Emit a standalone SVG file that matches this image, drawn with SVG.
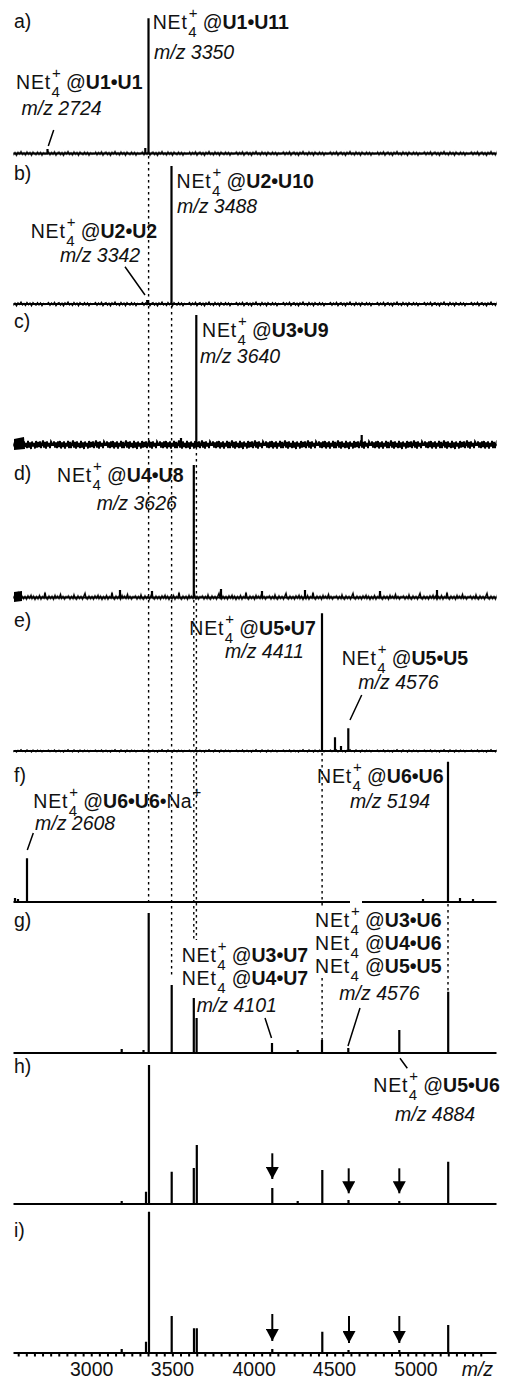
<svg xmlns="http://www.w3.org/2000/svg" width="505" height="1377" viewBox="0 0 505 1377">
<defs>
<style>
text{font-family:"Liberation Sans",Arial,sans-serif;font-size:19.5px;fill:#111}
.n{letter-spacing:0.8px}
.s{font-size:15px}
.b{font-weight:bold}
.i{font-style:italic}
.bl{stroke:#000;stroke-width:2;fill:none}
.pk{stroke:#000;stroke-width:2.2;fill:none}
.dot{stroke:#000;stroke-width:1.4;stroke-dasharray:2.5 3.5;fill:none}
.ptr{stroke:#000;stroke-width:1.5;fill:none}
.arr{stroke:#000;stroke-width:2;fill:none;marker-end:url(#ah)}
.nz{fill:none;stroke:#000}
</style>
<marker id="ah" markerUnits="userSpaceOnUse" markerWidth="13" markerHeight="13" refX="12" refY="6.5" orient="auto" viewBox="0 0 13 13"><path d="M0,0 L12,6.5 L0,13 Z" fill="#000"/></marker>
<pattern id="nzA" patternUnits="userSpaceOnUse" width="47" height="6"><polyline class="nz" stroke-width="1.3" points="0,3 1.5,2.1 3,3.7 4.5,2.5 6,3.4 7.5,2 9,3.9 10.5,2.8 12,2.2 13.5,3.6 15,2.6 16.5,4 18,2.3 19.5,3.2 21,1.8 22.5,3.5 24,2.7 25.5,3.8 27,2 28.5,3.3 30,2.5 31.5,4 33,2.1 34.5,3.1 36,3.7 37.5,2.2 39,3.5 40.5,2.4 42,3.9 43.5,2.6 45,3.3 47,3"/></pattern>
<pattern id="nzB" patternUnits="userSpaceOnUse" width="47" height="8"><polyline class="nz" stroke-width="1.4" points="0,4 1.5,2.6 3,5.2 4.5,3 6,4.6 7.5,2.4 9,5.6 10.5,3.6 12,2.7 13.5,5 15,3.3 16.5,5.8 18,2.9 19.5,4.4 21,2.2 22.5,4.9 24,3.5 25.5,5.4 27,2.5 28.5,4.6 30,3.2 31.5,5.7 33,2.6 34.5,4.2 36,5.1 37.5,2.8 39,4.9 40.5,3 42,5.6 43.5,3.4 45,4.5 47,4"/></pattern>
<pattern id="nzC" patternUnits="userSpaceOnUse" width="53" height="16"><polyline class="nz" stroke-width="1.8" points="0,8 1,4.5 2,10.5 3,5.5 4,11 5,4.5 6,10 7,4 8,11.5 9,5.5 10,10 11,4.5 12,11.5 13,6 14,9.5 15,4 16,11 17,5 18,11 19,6.5 20,3.5 21,10.5 22,5 23,11.5 24,4.5 25,10 26,6 27,11 28,4 29,10.5 30,5.5 31,12 32,4.5 33,9.5 34,6 35,11.5 36,4 37,10.5 38,5 39,10 40,4.5 41,11 42,6.5 43,3.5 44,10.5 45,5 46,11.5 47,4.5 48,9.5 49,6 50,11 51,4.5 53,8"/></pattern>
<pattern id="nzD" patternUnits="userSpaceOnUse" width="67" height="20"><polyline class="nz" stroke-width="1.5" points="0,14 1.5,12.5 3,15.5 4.5,13 6,15 7,11.5 8,14.5 9.5,15.8 11,12.6 12.5,15 14,13 15.5,15.6 17,12.3 18,10 19,14.5 20.5,15.7 22,12.8 23.5,15.2 25,13.2 26.5,15.6 28,12.5 29.5,14.5 31,11.8 32,15 33.5,12.8 35,15.8 36.5,13.2 38,15.2 39.5,12 41,15.6 42.5,13.2 44,14.5 45,9 46,14.4 47.5,15.7 49,12.8 50.5,15 52,13 53.5,15.7 55,12 56,14.5 57.5,12.8 59,15 60.5,11 61.5,14.8 63,13 64.5,15.5 66,13.3 67,14"/></pattern>
</defs>
<rect width="505" height="1377" fill="#fff"/>

<g id="spectra">
<g id="panel-a">
<text x="14" y="28.3">a)</text>
<path class="bl" stroke-width="2.5" d="M13.5 153.5H496.5"/>
<g transform="translate(0,149.5)"><rect x="13.5" y="0" width="483" height="8" fill="url(#nzB)"/></g>
<path class="pk" d="M148.5 18.3V153M145.3 148V153M47.5 149V153"/>
</g>
<g id="panel-b">
<text x="14" y="180">b)</text>
<path class="bl" stroke-width="2.5" d="M13.5 304H496.5"/>
<g transform="translate(0,300)"><rect x="13.5" y="0" width="483" height="8" fill="url(#nzB)"/></g>
<path class="pk" d="M171.5 166V304M147.2 300V304"/>
</g>
<g id="panel-c">
<text x="14" y="328.3">c)</text>
<path class="bl" stroke-width="5" d="M13.5 445H496.5"/>
<g transform="translate(0,437)"><rect x="13.5" y="0" width="483" height="16" fill="url(#nzC)"/></g>
<path d="M14 439 L24 437 L25 449 L14 450 Z" fill="#000"/>
<path class="pk" d="M196.3 315V445M361.7 435V445M181 438V445"/>
</g>
<g id="panel-d">
<text x="14" y="480">d)</text>
<path class="bl" stroke-width="4" d="M13.5 597.5H496.5"/>
<g transform="translate(0,583.5)"><rect x="13.5" y="0" width="483" height="20" fill="url(#nzD)"/></g>
<path d="M14 592 L22 591 L22 601 L14 602 Z" fill="#000"/>
<path class="pk" d="M193.8 465V598M120 590V598M152 591V598M221 589V598M262 591V598M305 590V598M380 591V598M437 590V598"/>
</g>
<g id="panel-e">
<text x="14" y="626.7">e)</text>
<path class="bl" stroke-width="1.8" d="M13.5 751H496.5"/>
<g transform="translate(0,748)"><rect x="13.5" y="0" width="483" height="6" fill="url(#nzA)"/></g>
<path class="pk" d="M322 613.3V751M335 737.3V751M348.3 728.3V751M341 746V751"/>
</g>
<g id="panel-f">
<text x="14" y="782">f)</text>
<path class="bl" d="M13.5 902H350M362 902H496.5"/>
<path class="pk" d="M448 761.7V902M27 858.3V902M15 898V902M18 899V902M423 899V902M460 898V902M473 899V902"/>
</g>
<g id="panel-g">
<text x="14" y="927">g)</text>
<path class="bl" d="M13.5 1053H496.5"/>
<path class="pk" d="M148.7 913V1053M171.7 985V1053M193.8 998V1053M196.6 1018V1053M272 1043V1053M322 1040V1053M348.3 1048V1053M399.3 1030V1053M448.2 991.7V1053M121.7 1049V1053M143.5 1050V1053M297.7 1050V1053"/>
</g>
<g id="panel-h">
<text x="14" y="1073">h)</text>
<path class="bl" d="M13.5 1204H496.5"/>
<path class="pk" d="M149 1065V1204M146 1191.7V1204M171.7 1171.7V1204M193.8 1168V1204M196.8 1145V1204M272.3 1188V1204M322.3 1170V1204M448.2 1161.7V1204M121.7 1201V1204M297.7 1201V1204M348.5 1200V1204M399.3 1201V1204"/>
</g>
<g id="panel-i">
<text x="14" y="1237">i)</text>
<path class="bl" d="M13.5 1353H496.5"/>
<path class="pk" d="M149 1211.7V1353M146 1341.7V1353M171.7 1316V1353M194 1328.3V1353M196.8 1328.3V1353M322.3 1331.7V1353M448.2 1325V1353M121.7 1349V1353M272.3 1349V1353M348.5 1350V1353M399.3 1350V1353"/>
</g>
<g id="axis">
<path class="bl" stroke-width="1.5" d="M18.7 1353v3.5m8.115-3.5v3.5m8.115-3.5v3.5m8.115-3.5v3.5m8.115-3.5v3.5m8.115-3.5v3.5m8.115-3.5v3.5m8.115-3.5v3.5m8.115-3.5v3.5m8.115-3.5v3.5m8.115-3.5v3.5m8.115-3.5v3.5m8.115-3.5v3.5m8.115-3.5v3.5m8.115-3.5v3.5m8.115-3.5v3.5m8.115-3.5v3.5m8.115-3.5v3.5m8.115-3.5v3.5m8.115-3.5v3.5m8.115-3.5v3.5m8.115-3.5v3.5m8.115-3.5v3.5m8.115-3.5v3.5m8.115-3.5v3.5m8.115-3.5v3.5m8.115-3.5v3.5m8.115-3.5v3.5m8.115-3.5v3.5m8.115-3.5v3.5m8.115-3.5v3.5m8.115-3.5v3.5m8.115-3.5v3.5m8.115-3.5v3.5m8.115-3.5v3.5m8.115-3.5v3.5m8.115-3.5v3.5m8.115-3.5v3.5m8.115-3.5v3.5m8.115-3.5v3.5m8.115-3.5v3.5m8.115-3.5v3.5m8.115-3.5v3.5m8.115-3.5v3.5m8.115-3.5v3.5m8.115-3.5v3.5m8.115-3.5v3.5m8.115-3.5v3.5m8.115-3.5v3.5m8.115-3.5v3.5m8.115-3.5v3.5m8.115-3.5v3.5m8.115-3.5v3.5m8.115-3.5v3.5m8.115-3.5v3.5m8.115-3.5v3.5m8.115-3.5v3.5m8.115-3.5v3.5"/>
<text x="91.7" y="1375.5" text-anchor="middle">3000</text>
<text x="172.5" y="1375.5" text-anchor="middle">3500</text>
<text x="254.2" y="1375.5" text-anchor="middle">4000</text>
<text x="334.5" y="1375.5" text-anchor="middle">4500</text>
<text x="416" y="1375.5" text-anchor="middle">5000</text>
<text class="i" x="461.7" y="1375.5">m/z</text>
</g>
</g>

<g id="connectors">
<path class="dot" d="M148.6 156V902M171.6 306V976M196.4 447V940M193.8 600V940M322.1 753V906M322.1 978V1040M448 904V991"/>
<path class="ptr" d="M48.3 146L53.7 130M125 266.7L145 295M350 720L361.7 695M27.3 850L33.3 833M265 1018L271.5 1038M360 1008L348 1046M400 1058.3L407.3 1068.3"/>
<path class="arr" d="M272.3 1153.3V1179"/>
<path class="arr" d="M348.7 1168.3V1193.3"/>
<path class="arr" d="M399.3 1168.3V1193.3"/>
<path class="arr" d="M272.3 1314V1341"/>
<path class="arr" d="M349 1316V1343"/>
<path class="arr" d="M399.3 1316V1343"/>
</g>

<g id="lbl-a1"><text class="n" x="152.7" y="29.3">NEt</text><text class="s" x="188.2" y="37.3">4</text><text class="s" x="188.7" y="18.3">+</text><text x="202.7" y="29.3">@<tspan class="b">U1•U11</tspan></text><text class="i" x="154" y="58.5">m/z 3350</text></g>
<g id="lbl-a2"><text class="n" x="16" y="89">NEt</text><text class="s" x="51.5" y="97">4</text><text class="s" x="52" y="78">+</text><text x="66" y="89">@<tspan class="b">U1•U1</tspan></text><text class="i" x="21.5" y="114.5">m/z 2724</text></g>
<g id="lbl-b1"><text class="n" x="176.5" y="188.3">NEt</text><text class="s" x="212" y="196.3">4</text><text class="s" x="212.5" y="177.3">+</text><text x="226.5" y="188.3">@<tspan class="b">U2•U10</tspan></text><text class="i" x="177" y="213">m/z 3488</text></g>
<g id="lbl-b2"><text class="n" x="30.7" y="238.3">NEt</text><text class="s" x="66.2" y="246.3">4</text><text class="s" x="66.7" y="227.3">+</text><text x="80.7" y="238.3">@<tspan class="b">U2•U2</tspan></text><text class="i" x="60" y="261.7">m/z 3342</text></g>
<g id="lbl-c1"><text class="n" x="202" y="336.7">NEt</text><text class="s" x="237.5" y="344.7">4</text><text class="s" x="238" y="325.7">+</text><text x="252" y="336.7">@<tspan class="b">U3•U9</tspan></text><text class="i" x="200" y="363.3">m/z 3640</text></g>
<g id="lbl-d1"><text class="n" x="57" y="481.7">NEt</text><text class="s" x="92.5" y="489.7">4</text><text class="s" x="93" y="470.7">+</text><text x="107" y="481.7">@<tspan class="b">U4•U8</tspan></text><text class="i" x="96.7" y="510">m/z 3626</text></g>
<g id="lbl-e1"><text class="n" x="189.3" y="635">NEt</text><text class="s" x="224.8" y="643">4</text><text class="s" x="225.3" y="624">+</text><text x="239.3" y="635">@<tspan class="b">U5•U7</tspan></text><text class="i" x="225" y="658.3">m/z 4411</text></g>
<g id="lbl-e2"><text class="n" x="341.7" y="665">NEt</text><text class="s" x="377.2" y="673">4</text><text class="s" x="377.7" y="654">+</text><text x="391.7" y="665">@<tspan class="b">U5•U5</tspan></text><text class="i" x="358.3" y="689.3">m/z 4576</text></g>
<g id="lbl-f1"><text class="n" x="33.3" y="808.3">NEt</text><text class="s" x="68.8" y="816.3">4</text><text class="s" x="69.3" y="797.3">+</text><text x="83.3" y="808.3">@<tspan class="b">U6•U6</tspan>•Na</text><text class="s" x="192.5" y="797">+</text><text class="i" x="35" y="830">m/z 2608</text></g>
<g id="lbl-f2"><text class="n" x="317" y="783.3">NEt</text><text class="s" x="352.5" y="791.3">4</text><text class="s" x="353" y="772.3">+</text><text x="367" y="783.3">@<tspan class="b">U6•U6</tspan></text><text class="i" x="350" y="808.3">m/z 5194</text></g>
<g id="lbl-g1"><text class="n" x="181.7" y="961.7">NEt</text><text class="s" x="217.2" y="969.7">4</text><text class="s" x="217.7" y="950.7">+</text><text x="231.7" y="961.7">@<tspan class="b">U3•U7</tspan></text><text class="n" x="181.7" y="985">NEt</text><text class="s" x="217.2" y="993">4</text><text x="231.7" y="985">@<tspan class="b">U4•U7</tspan></text><text class="i" x="196.7" y="1011.7">m/z 4101</text></g>
<g id="lbl-g2"><text class="n" x="315" y="926.7">NEt</text><text class="s" x="350.5" y="934.7">4</text><text class="s" x="351" y="915.7">+</text><text x="365" y="926.7">@<tspan class="b">U3•U6</tspan></text><text class="n" x="315" y="950">NEt</text><text class="s" x="350.5" y="958">4</text><text x="365" y="950">@<tspan class="b">U4•U6</tspan></text><text class="n" x="315" y="973.3">NEt</text><text class="s" x="350.5" y="981.3">4</text><text x="365" y="973.3">@<tspan class="b">U5•U5</tspan></text><text class="i" x="339.3" y="1000">m/z 4576</text></g>
<g id="lbl-h1"><text class="n" x="373.3" y="1091.7">NEt</text><text class="s" x="408.8" y="1099.7">4</text><text class="s" x="409.3" y="1080.7">+</text><text x="423.3" y="1091.7">@<tspan class="b">U5•U6</tspan></text><text class="i" x="395" y="1120.7">m/z 4884</text></g>
</svg>
